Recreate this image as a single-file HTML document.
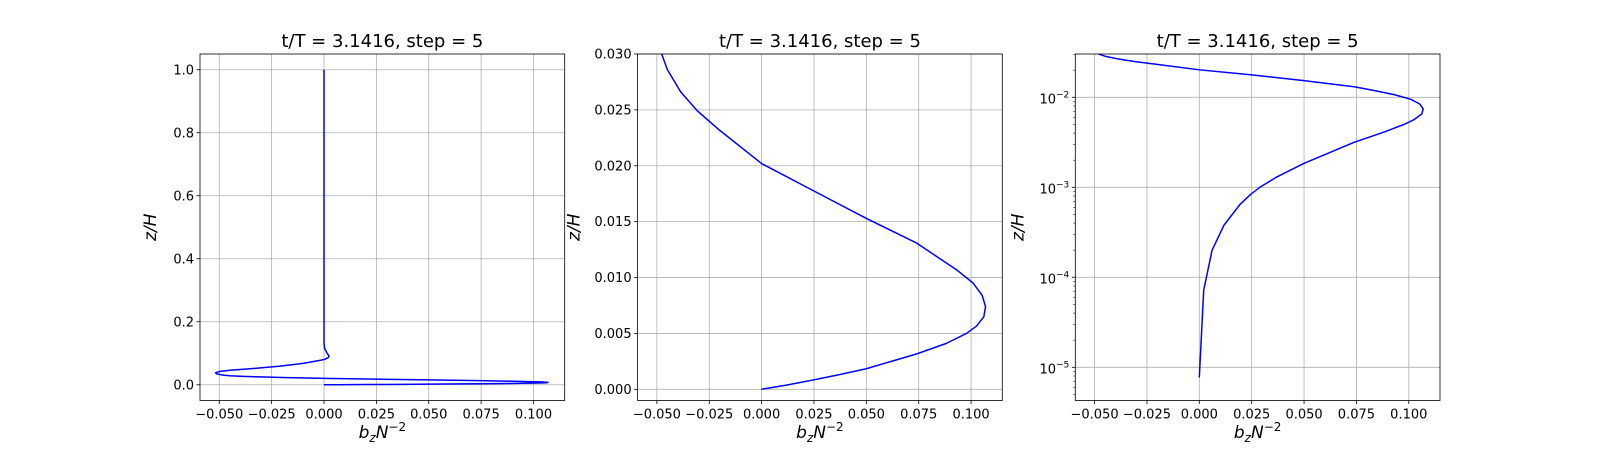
<!DOCTYPE html>
<html><head><meta charset="utf-8"><style>
body{margin:0;background:#fff;}
svg text{font-family:"DejaVu Sans","Liberation Sans",sans-serif;fill:#000;}
</style></head><body>
<svg id="fig" width="1600" height="450" xmlns="http://www.w3.org/2000/svg"></svg>
<script>
const zVals=[0,7.7e-6,7.2e-5,2.0e-4,3.8e-4,6.4e-4,0.00083,0.001,0.0013,0.00184,0.00316,0.00411,0.0050,0.00566,0.0065,0.0074,0.0084,0.0095,0.0107,0.0119,0.0131,0.0153,0.0178,0.0202,0.0232,0.0249,0.0266,0.0286,0.030,0.034,0.038,0.042,0.046,0.052,0.059,0.068,0.075,0.080,0.086,0.091,0.10,0.115,0.133,0.2,0.4,0.6,0.8,1.0];
const bVals=[0,0,0.0021,0.0061,0.0118,0.0193,0.0244,0.0289,0.0369,0.0499,0.0739,0.0882,0.0978,0.1026,0.1061,0.1069,0.1053,0.101,0.093,0.0834,0.0739,0.0499,0.0244,0,-0.0202,-0.0306,-0.0386,-0.045,-0.0477,-0.051,-0.0518,-0.050,-0.045,-0.033,-0.021,-0.01,-0.004,0,0.002,0.0024,0.0015,0.0003,0,0,0,0,0,0];
const xTicks=[-0.05,-0.025,0,0.025,0.05,0.075,0.1];
const xTickLabels=["\u22120.050","\u22120.025","0.000","0.025","0.050","0.075","0.100"];
const y1Ticks=[0,0.2,0.4,0.6,0.8,1.0];
const y1TickLabels=["0.0","0.2","0.4","0.6","0.8","1.0"];
const y2Ticks=[0,0.005,0.01,0.015,0.02,0.025,0.03];
const y2TickLabels=["0.000","0.005","0.010","0.015","0.020","0.025","0.030"];
const y3Exps=[-5,-4,-3,-2];
const titleText="t/T = 3.1416, step = 5";

const NS="http://www.w3.org/2000/svg";
const svg=document.getElementById('fig');
function mk(tag,attrs,parent){const e=document.createElementNS(NS,tag);for(const k in attrs)e.setAttribute(k,attrs[k]);(parent||svg).appendChild(e);return e;}
const xMin=-0.0592,xMax=0.1149;
const axTop=54,axBot=400.5;
const panels=[
 {l:200,r:564.7,type:'lin',yMin:-0.05,yMax:1.05,ticks:y1Ticks,labels:y1TickLabels,lab:44},
 {l:637.6,r:1002.3,type:'lin',yMin:-0.001,yMax:0.030,ticks:y2Ticks,labels:y2TickLabels,lab:58},
 {l:1075.3,r:1440,type:'log',yMin:-5.369,yMax:-1.519,lab:52}
];
panels.forEach((p,i)=>{
 const g=mk('g',{});
 
 
 const sx=v=>p.l+(v-xMin)/(xMax-xMin)*(p.r-p.l);
 const sy=v=>{const t=p.type==='log'?Math.log10(v):v;return axBot-(t-p.yMin)/(p.yMax-p.yMin)*(axBot-axTop);};
 xTicks.forEach((t,j)=>{
  const x=sx(t);
  const gl=mk('line',{x1:x,x2:x,y1:axTop,y2:axBot,stroke:'#b0b0b0','stroke-width':0.8},g);
  
  
  mk('line',{x1:x,x2:x,y1:axBot,y2:axBot+3.5,stroke:'#000','stroke-width':0.8},g);
  const tx=mk('text',{x:x,y:axBot+18,'font-size':13,'text-anchor':'middle'},g);
  tx.textContent=xTickLabels[j];
  
  
 });
 let yt=[],yl=[];
 if(p.type==='lin'){yt=p.ticks;yl=p.labels;}
 else{yt=y3Exps.map(e=>Math.pow(10,e));}
 yt.forEach((t,j)=>{
  const y=sy(t);
  const gl=mk('line',{x1:p.l,x2:p.r,y1:y,y2:y,stroke:'#b0b0b0','stroke-width':0.8},g);
  
  
  mk('line',{x1:p.l-3.5,x2:p.l,y1:y,y2:y,stroke:'#000','stroke-width':0.8},g);
  const tx=mk('text',{x:p.l-6,y:y+4.5,'font-size':13,'text-anchor':'end'},g);
  if(p.type==='lin'){tx.textContent=yl[j];}
  else{tx.setAttribute('y',y+6);tx.textContent='10';const s=mk('tspan',{dy:-6,'font-size':9},tx);s.textContent='\u2212'+(-y3Exps[j]);}
  
  
 });
 if(p.type==='log'){
  for(let e=-6;e<=-2;e++)for(let m=2;m<=9;m++){
   const v=m*Math.pow(10,e);const y=sy(v);
   if(y<axTop||y>axBot)continue;
   mk('line',{x1:p.l-2,x2:p.l,y1:y,y2:y,stroke:'#000','stroke-width':0.6},g);
  }
 }
 const cid='clip'+i;
 const cp=mk('clipPath',{id:cid},g);mk('rect',{x:p.l,y:axTop,width:p.r-p.l,height:axBot-axTop},cp);
 let d='';
 zVals.forEach((z,k)=>{
  if(p.type==='log'&&z<=0)return;
  d+=(d?'L':'M')+sx(bVals[k]).toFixed(2)+','+sy(z).toFixed(2);
 });
 const path=mk('path',{d:d,fill:'none',stroke:'#0000ff','stroke-width':1.5,'clip-path':'url(#'+cid+')','stroke-linejoin':'round'},g);
 
 
 const fr=mk('rect',{x:p.l,y:axTop,width:p.r-p.l,height:axBot-axTop,fill:'none',stroke:'#000','stroke-width':0.8},g);
 
 
 const ti=mk('text',{x:(p.l+p.r)/2,y:axTop-7,'font-size':18,'text-anchor':'middle'},g);
 ti.textContent=titleText;
 
 
 const xl=mk('text',{x:(p.l+p.r)/2,y:438,'font-size':17,'text-anchor':'middle'},g);
 const a=mk('tspan',{'font-style':'italic'},xl);a.textContent='b';
 const b=mk('tspan',{'font-style':'italic','font-size':12,dy:4},xl);b.textContent='z';
 const c=mk('tspan',{'font-style':'italic',dy:-4},xl);c.textContent='N';
 const d2=mk('tspan',{'font-size':12,dy:-7},xl);d2.textContent='\u22122';
 
 
 const lx=p.l-p.lab;
 const ylab=mk('text',{x:lx,y:(axTop+axBot)/2,'font-size':17,'text-anchor':'middle','font-style':'italic',transform:'rotate(-90 '+lx+' '+(axTop+axBot)/2+')'},g);
 ylab.textContent='z/H';
 
 
});
</script>
</body></html>
